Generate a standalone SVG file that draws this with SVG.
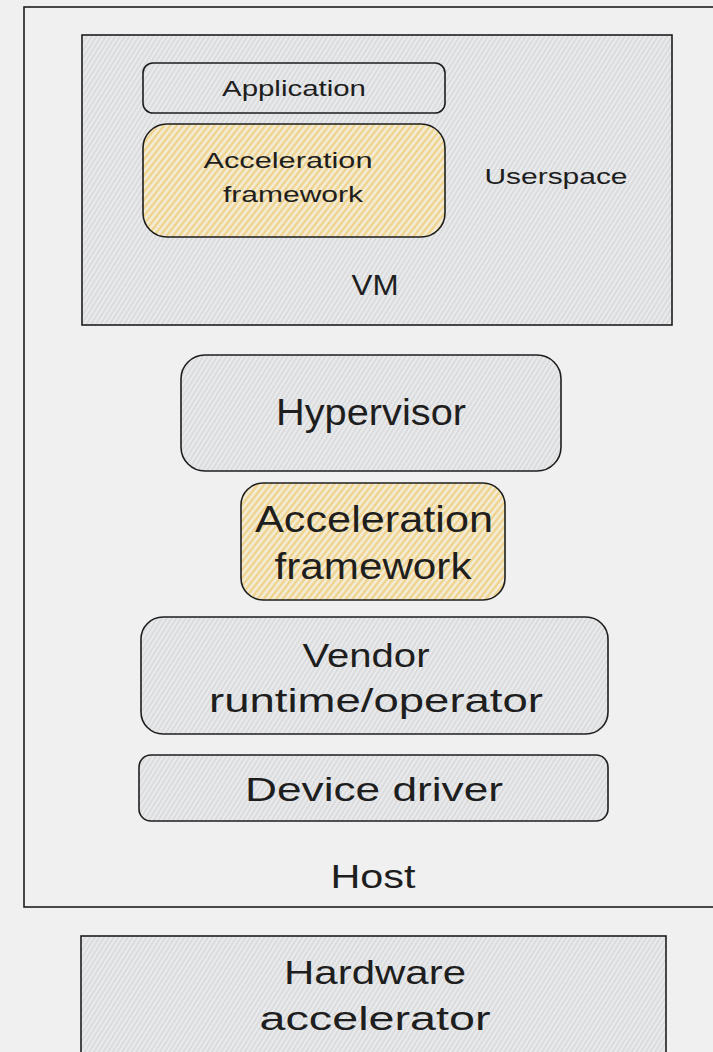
<svg xmlns="http://www.w3.org/2000/svg" width="713" height="1052" viewBox="0 0 713 1052">
  <style>
    .frame { fill: none; stroke: #1e1e1e; stroke-width: 1.6; }
    .grey { fill: url(#hatchGrey); stroke: #1e1e1e; stroke-width: 1.6; }
    .yellow { fill: url(#hatchYellow); stroke: #1e1e1e; stroke-width: 1.6; }
    text { font-family: "Liberation Sans", "DejaVu Sans", sans-serif; fill: #1e1e1e; text-anchor: middle; dominant-baseline: central; }
    .s20 { font-size: 22px; }
    .s28 { font-size: 30px; }
    .s32 { font-size: 34px; }
    .s36 { font-size: 37px; }
  </style>
  <defs>
    <!-- sketchy hachure fills -->
    <pattern id="hatchGrey" patternUnits="userSpaceOnUse" width="4" height="4" patternTransform="rotate(32)">
      <rect width="4" height="4" fill="#e9eaeb"/>
      <line x1="1" y1="0" x2="1" y2="4" stroke="#c9cbcd" stroke-width="0.9"/>
    </pattern>
    <pattern id="hatchYellow" patternUnits="userSpaceOnUse" width="5" height="5" patternTransform="rotate(38)">
      <rect width="5" height="5" fill="#f3ecd8"/>
      <line x1="1.5" y1="0" x2="1.5" y2="5" stroke="#efcf7e" stroke-width="2"/>
    </pattern>
  </defs>

  <rect width="713" height="1052" fill="#f0f0f0"/>

  <g id="host">
    <rect class="frame" x="24" y="7" width="700" height="900"/>
    <text class="s32" x="373" y="876" textLength="85" lengthAdjust="spacingAndGlyphs">Host</text>
  </g>

  <g id="vm">
    <rect class="grey" x="82" y="35" width="590" height="290"/>
    <text class="s28" x="375" y="284" textLength="47" lengthAdjust="spacingAndGlyphs">VM</text>
    <text class="s20" x="556" y="176" textLength="143" lengthAdjust="spacingAndGlyphs">Userspace</text>
  </g>

  <g id="application">
    <rect class="grey" x="143" y="63" width="302" height="50" rx="10"/>
    <text class="s20" x="294" y="88" textLength="144" lengthAdjust="spacingAndGlyphs">Application</text>
  </g>

  <g id="vm-acceleration-framework">
    <rect class="yellow" x="143" y="124" width="302" height="113" rx="24"/>
    <text class="s20" x="288" y="160" textLength="169" lengthAdjust="spacingAndGlyphs">Acceleration</text>
    <text class="s20" x="293" y="194" textLength="140" lengthAdjust="spacingAndGlyphs">framework</text>
  </g>

  <g id="hypervisor">
    <rect class="grey" x="181" y="355" width="380" height="116" rx="24"/>
    <text class="s36" x="371" y="412" textLength="190" lengthAdjust="spacingAndGlyphs">Hypervisor</text>
  </g>

  <g id="host-acceleration-framework">
    <rect class="yellow" x="241" y="483" width="264" height="117" rx="22"/>
    <text class="s36" x="374" y="519" textLength="238" lengthAdjust="spacingAndGlyphs">Acceleration</text>
    <text class="s36" x="373" y="566" textLength="197" lengthAdjust="spacingAndGlyphs">framework</text>
  </g>

  <g id="vendor-runtime">
    <rect class="grey" x="141" y="617" width="467" height="117" rx="22"/>
    <text class="s32" x="366" y="655" textLength="127" lengthAdjust="spacingAndGlyphs">Vendor</text>
    <text class="s32" x="376" y="700" textLength="334" lengthAdjust="spacingAndGlyphs">runtime/operator</text>
  </g>

  <g id="device-driver">
    <rect class="grey" x="139" y="755" width="469" height="66" rx="12"/>
    <text class="s32" x="374" y="789" textLength="258" lengthAdjust="spacingAndGlyphs">Device driver</text>
  </g>

  <g id="hardware-accelerator">
    <rect class="grey" x="81" y="936" width="585" height="140"/>
    <text class="s32" x="375" y="972" textLength="182" lengthAdjust="spacingAndGlyphs">Hardware</text>
    <text class="s32" x="375" y="1018" textLength="231" lengthAdjust="spacingAndGlyphs">accelerator</text>
  </g>

  <g id="connectors"/>
</svg>
